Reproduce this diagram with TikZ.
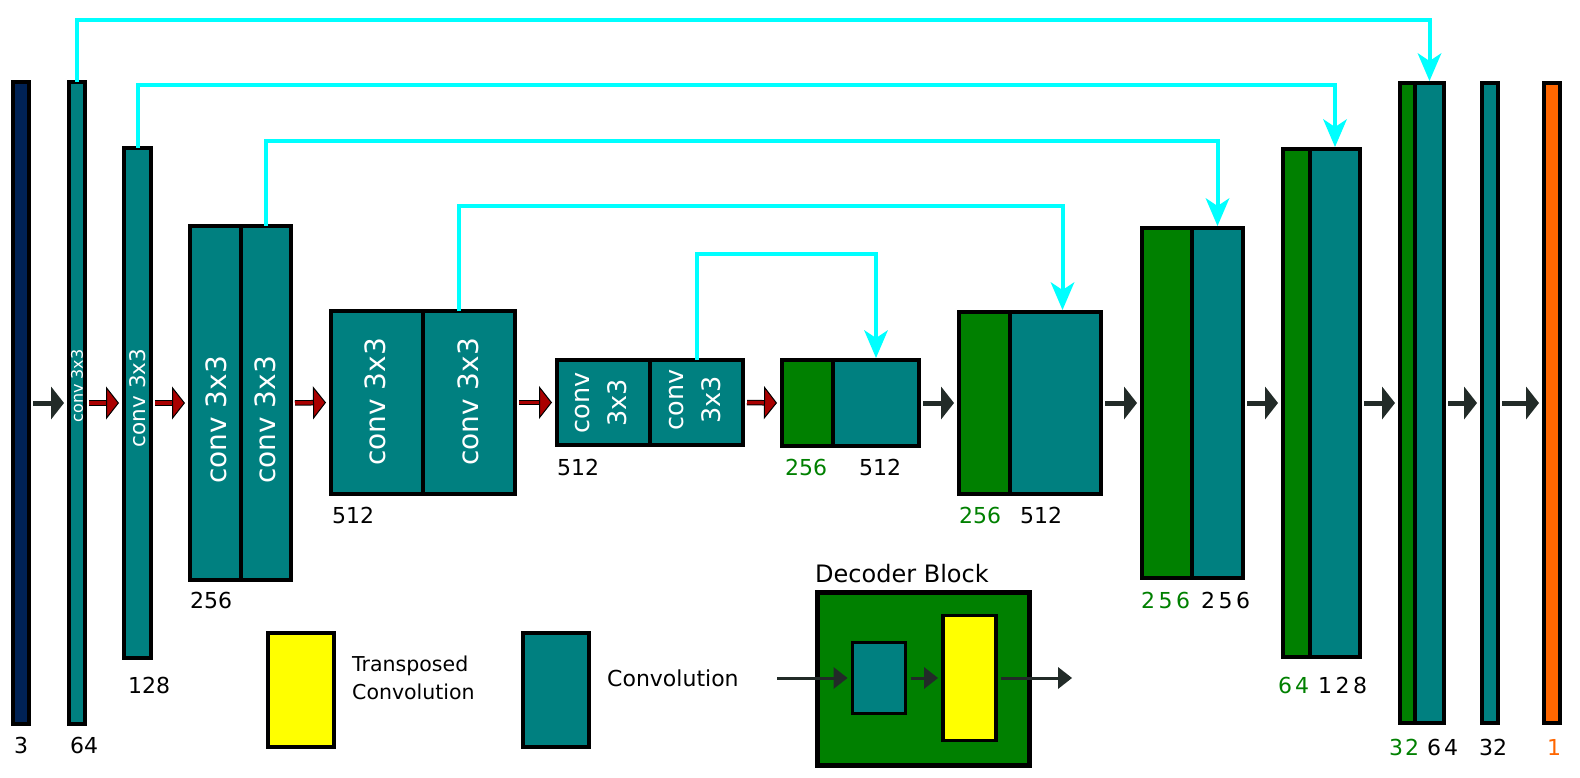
\documentclass[tikz,border=0pt]{standalone}
\usepackage{fontspec}
\setmainfont{DejaVu Sans}
\usepackage{graphicx}
\usetikzlibrary{positioning,arrows.meta}
\definecolor{tealc}{HTML}{008080}
\definecolor{greenc}{HTML}{008000}
\definecolor{navyc}{HTML}{002255}
\definecolor{orangec}{HTML}{FF6600}
\definecolor{yellowc}{HTML}{FFFF00}
\definecolor{cyanc}{HTML}{00FFFF}
\definecolor{darkc}{HTML}{222B28}
\definecolor{redc}{HTML}{AA0000}
\begin{document}
\begin{tikzpicture}[x=1pt,y=-1pt,
    blk/.style={draw, line width=4pt, fill=tealc, inner sep=0pt, outer sep=0pt},
    cat/.style={blk, fill=greenc},
    lbl/.style={anchor=west, inner sep=0pt, font=\fontsize{22}{25}\selectfont},
    convtxt/.style={rotate=90, inner sep=0pt, text=white, align=center},
    fwd/.style={draw=darkc, line width=5pt, -{Triangle[length=13pt,width=33pt,line width=0pt]}, shorten <=4pt, shorten >=5pt},
    down/.style={draw=redc, line width=3.5pt, -{Triangle[length=13pt,width=33pt,fill=redc,color=black,line width=1pt]}, shorten <=4pt, shorten >=5pt, preaction={draw=black, line width=5.5pt, -, shorten >=15pt}},
    skip/.style={draw=cyanc, line width=4pt, -{Stealth[length=28pt,width=24pt,inset=8pt,line width=0pt]}, shorten >=2pt},
    small/.style={draw=darkc, line width=3pt, -{Triangle[length=14pt,width=22pt,line width=0pt]}, shorten <=5pt, shorten >=5pt},
  ]
  \useasboundingbox (0,0) rectangle (1580,778);

  % encoder
  \node[blk, fill=navyc, minimum width=16pt, minimum height=642pt] (b1) at (21,403) {};
  \node[lbl] (n1) at (14,745) {3};
  \node[blk, minimum width=16pt, minimum height=642pt] (b2) at (77,403) {};
  \node[convtxt, font=\fontsize{16}{19}\selectfont] (t2) at (77,386) {conv 3x3};
  \node[lbl] (n2) at (70,745) {64};
  \node[blk, minimum width=27pt, minimum height=510pt] (b3) at (137.5,403) {};
  \node[convtxt, font=\fontsize{21.5}{25}\selectfont] (t3) at (137.5,398) {conv 3x3};
  \node[lbl] (n3) at (128,685) {128};

  \node[blk, minimum width=51pt, minimum height=354pt] (b4l) at (215.5,403) {};
  \node[blk, minimum width=50pt, minimum height=354pt, right=0pt of b4l] (b4r) {};
  \node[convtxt, font=\fontsize{28}{33}\selectfont] (t4l) at (216,420) {conv 3x3};
  \node[convtxt, font=\fontsize{28}{33}\selectfont] (t4r) at (265,420) {conv 3x3};
  \node[lbl] (n4) at (190,600) {256};

  \node[blk, minimum width=92pt, minimum height=183pt] (b5l) at (377,402.5) {};
  \node[blk, minimum width=92pt, minimum height=183pt, right=0pt of b5l] (b5r) {};
  \node[convtxt, font=\fontsize{28}{33}\selectfont] (t5l) at (375,402) {conv 3x3};
  \node[convtxt, font=\fontsize{28}{33}\selectfont] (t5r) at (468,402) {conv 3x3};
  \node[lbl] (n5) at (332,515) {512};

  \node[blk, minimum width=93pt, minimum height=85pt] (b6l) at (603.5,402.5) {};
  \node[blk, minimum width=93pt, minimum height=85pt, right=0pt of b6l] (b6r) {};
  \node[convtxt, font=\fontsize{25.5}{37}\selectfont] (t6l) at (601,403) {conv\\3x3};
  \node[convtxt, font=\fontsize{25.5}{37}\selectfont] (t6r) at (695,400) {conv\\3x3};
  \node[lbl] (n6) at (557,467) {512};

  % decoder
  \node[cat, minimum width=51pt, minimum height=86pt] (b7l) at (807.5,403) {};
  \node[blk, minimum width=86pt, minimum height=86pt, right=0pt of b7l] (b7r) {};
  \node[lbl, text=greenc] (n7l) at (785,467) {256};
  \node[lbl] (n7r) at (859,467) {512};

  \node[cat, minimum width=51pt, minimum height=182pt] (b8l) at (984.5,403) {};
  \node[blk, minimum width=91pt, minimum height=182pt, right=0pt of b8l] (b8r) {};
  \node[lbl, text=greenc] (n8l) at (959,515) {256};
  \node[lbl] (n8r) at (1020,515) {512};

  \node[cat, minimum width=50pt, minimum height=350pt] (b9l) at (1167,403) {};
  \node[blk, minimum width=51pt, minimum height=350pt, right=0pt of b9l] (b9r) {};
  \node[lbl, text=greenc] (n9l) at (1141,600) {2\kern3.5pt 5\kern3.5pt 6};
  \node[lbl] (n9r) at (1201,600) {2\kern3.5pt 5\kern3.5pt 6};

  \node[cat, minimum width=27pt, minimum height=508pt] (b10l) at (1296.5,403) {};
  \node[blk, minimum width=50pt, minimum height=508pt, right=0pt of b10l] (b10r) {};
  \node[lbl, text=greenc] (n10l) at (1278,685) {6\kern3pt 4};
  \node[lbl] (n10r) at (1318,685) {1\kern3.5pt 2\kern3.5pt 8};

  \node[cat, minimum width=15pt, minimum height=640pt] (b11l) at (1407.5,403) {};
  \node[blk, minimum width=29pt, minimum height=640pt, right=0pt of b11l] (b11r) {};
  \node[lbl, text=greenc] (n11l) at (1389,747) {3\kern2pt 2};
  \node[lbl] (n11r) at (1427,747) {6\kern3pt 4};

  \node[blk, minimum width=16pt, minimum height=640pt] (b12) at (1490,403) {};
  \node[lbl] (n12) at (1479,747) {32};
  \node[blk, fill=orangec, minimum width=16pt, minimum height=640pt] (b13) at (1552,403) {};
  \node[lbl, anchor=center, text=orangec] (n13) at (1554,747) {1};

  % forward arrows
  \draw[fwd] (b1) -- (b2);
  \draw[down] (b2) -- (b3);
  \draw[down] (b3) -- (b4l);
  \draw[down] (b4r.east) -- (b5l.west);
  \draw[down] (b5r.east) -- (b6l.west);
  \draw[down] (b6r.east) -- (b7l.west);
  \draw[fwd] (b7r.east) -- (b8l.west);
  \draw[fwd] (b8r.east) -- (b9l.west);
  \draw[fwd] (b9r.east) -- (b10l.west);
  \draw[fwd] (b10r.east) -- (b11l.west);
  \draw[fwd] (b11r.east) -- (b12.west);
  \draw[fwd] (b12.east) -- (b13.west);

  % skip connections
  \draw[skip] (b2.north) -- (b2.north |- 0,20) -| (b11r.north);
  \draw[skip] (b3.north) -- (b3.north |- 0,85) -| (b10r.north);
  \draw[skip] (b4r.north) -- (b4r.north |- 0,141) -| (b9r.north);
  \draw[skip] ([xshift=-10pt]b5r.north) -- ([xshift=-10pt]b5r.north |- 0,206) -| ([xshift=7pt]b8r.north);
  \draw[skip] (b6r.north) -- (b6r.north |- 0,254) -| (b7r.north);

  % legend
  \node[blk, fill=yellowc, minimum width=66pt, minimum height=114pt] (lgt) at (301,690) {};
  \node[lbl, font=\fontsize{20.5}{28}\selectfont, align=left] (lgtt) at (352,678) {Transposed\\Convolution};
  \node[blk, minimum width=66pt, minimum height=114pt] (lgc) at (556,690) {};
  \node[lbl, font=\fontsize{22}{26}\selectfont] (lgct) at (607,678) {Convolution};

  \node[lbl, font=\fontsize{24}{28}\selectfont] (dect) at (815,574) {Decoder Block};
  \node[cat, line width=5pt, minimum width=212pt, minimum height=173pt] (dec) at (923.5,679) {};
  \node[blk, line width=3pt, minimum width=53pt, minimum height=71pt] (dconv) at (879,678) {};
  \node[blk, fill=yellowc, line width=3.5pt, minimum width=53pt, minimum height=125pt] (dup) at (969.5,678) {};
  \coordinate (din) at (772,678);
  \coordinate (dout) at (1077,678);
  \draw[small] (din) -- (dconv);
  \draw[small] (dconv) -- (dup);
  \draw[small] (dup) -- (dout);
\end{tikzpicture}
\end{document}
